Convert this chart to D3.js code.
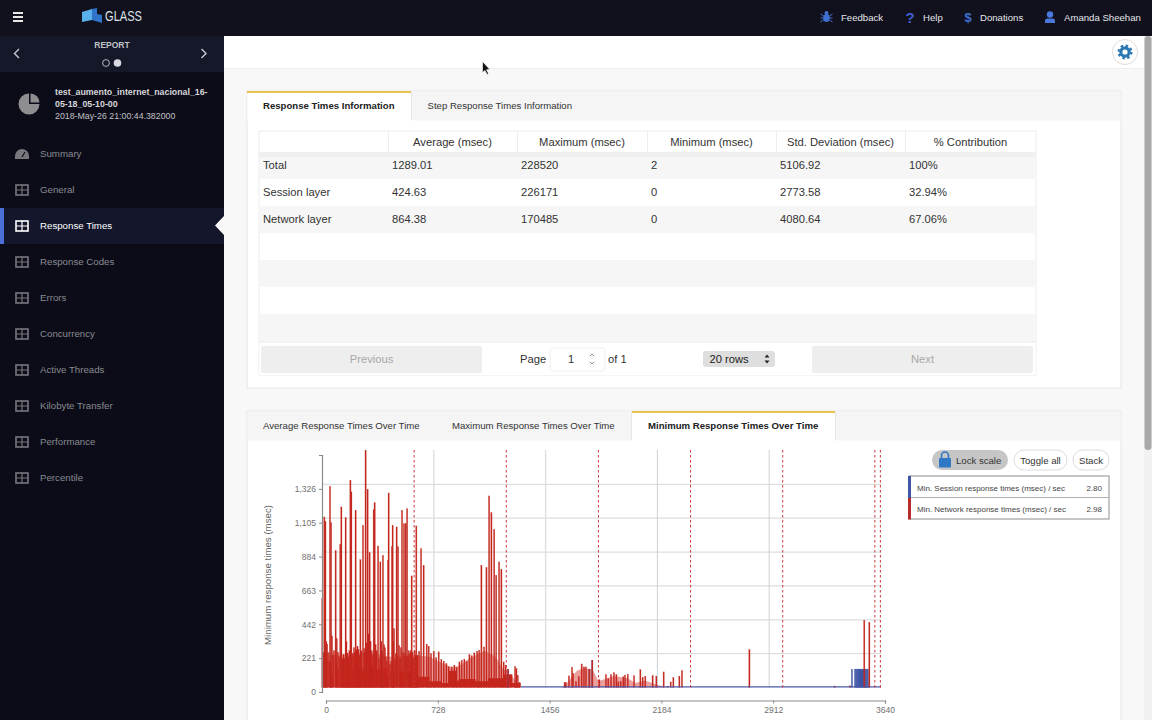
<!DOCTYPE html>
<html>
<head>
<meta charset="utf-8">
<title>Response Times</title>
<script src="https://cdnjs.cloudflare.com/ajax/libs/d3/7.8.5/d3.min.js"></script>
<style>
html,body{margin:0;padding:0;background:#f8f8f8;overflow:hidden;}
svg{display:block;}
text{font-family:"Liberation Sans",Arial,sans-serif;}
</style>
</head>
<body>
<svg id="page" width="1152" height="720"></svg>
<script>
//Navigation and table text
var menuItems = ["Summary","General","Response Times","Response Codes","Errors","Concurrency","Active Threads","Kilobyte Transfer","Performance","Percentile"];
var tableColumns = ["Average (msec)","Maximum (msec)","Minimum (msec)","Std. Deviation (msec)","% Contribution"];
var tableLabels = ["Total","Session layer","Network layer"];
var averageValues = ["1289.01","424.63","864.38"];
var maximumValues = ["228520","226171","170485"];
var minimumValues = ["2","0","0"];
var deviationValues = ["5106.92","2773.58","4080.64"];
var contributionValues = ["100%","32.94%","67.06%"];
var chartTabs = ["Average Response Times Over Time","Maximum Response Times Over Time","Minimum Response Times Over Time"];
var legendLabels = ["Min. Session response times (msec) / sec","Min. Network response times (msec) / sec"];
var legendValues = ["2.80","2.98"];

//Axis ticks
var xTicks = [0,728,1456,2184,2912,3640];
var yTicks = [0,221,442,663,884,1105,1326];
var stepMarks = [600,1200,1800,2400,3000,3600,3636];

//Network layer spikes (sec, msec)
var networkTimes = [2,15,22,33,52,59,65,89,96,119,126,133,154,159,185,191,202,219,237,250,267,284,297,310,337,343,365,380,397,404,430,434,456,460,469,486,495,502,521,534,545,554,565,584,604,614,
  632,645,662,682,695,710,728,743,760,777,793,810,825,845,862,877,895,910,927,943,960,975,992,1010,1023,1038,1055,1071,1088,1103,1121,1134,1153,1168,1183,1196,1212,1229,1257,1266,1275,1286,
  1580,1587,1608,1628,1635,1654,1672,1691,1706,1719,1741,1760,1806,1849,1864,1882,1901,1917,1929,1945,1962,1973,1991,2032,2073,2088,2105,2153,2177,2225,2251,2271,2288,2327,2344,2783,3339,3438,3531,3564];
var networkValues = [580,1113,1085,283,1314,1077,337,894,320,935,1179,190,1109,300,1353,1277,210,1157,250,835,1059,1549,1294,881,1161,1207,924,820,863,280,830,1270,920,1059,385,1048,920,275,1157,1070,1070,1168,240,729,240,1055,
  237,907,798,283,270,222,237,196,233,183,172,157,135,135,146,130,167,178,185,172,215,207,226,237,244,798,265,783,1251,1142,1033,733,820,772,167,146,120,85,137,124,80,33,
  33,33,76,133,94,39,72,154,135,135,117,178,52,85,57,85,98,85,37,41,70,81,87,78,117,67,74,78,74,102,9,37,65,74,111,248,10,12,439,426];

//Shorter network spikes between the tall ones (sec, msec)
var shoulderTimes = [28,40,72,78,104,112,140,147,165,172,178,196,208,213,225,231,243,256,274,279,290,303,316,324,331,349,355,371,386,391,410,416,422,442,450,464,475,481,490,508,514,527,539,550,559,572,578,590,597,609,622];
var shoulderValues = [300,230,210,240,230,200,215,190,225,200,240,225,260,230,245,270,210,240,255,230,290,350,300,240,210,280,240,190,300,240,260,200,170,150,170,300,180,220,210,190,260,230,220,200,210,220,240,230,190,210,210];

//Solid low band under the spikes (sec, msec)
var floorTimes = [0,26,34,44,60,70,84,100,108,118,135,145,160,180,205,225,245,265,290,310,330,350,375,400,425,438,446,470,476,500,530,538,560,590,604,620,700,780,825,877,895,1000,1080,1180,1240,1294];
var floorValues = [230,190,0,170,90,0,160,120,0,150,100,130,140,110,120,130,125,110,130,150,125,115,130,120,70,0,110,100,0,110,95,0,105,80,95,70,40,30,110,45,55,40,60,85,30,0];

//Lighter shading between the spikes (sec, msec)
var hazeTimes = [0,100,300,450,620,700,780,850,900,960,1020,1060,1130,1180,1240,1290,1560,1586,1660,1700,1760,1800,1900,1990,2040,2100,2240];
var hazeValues = [220,210,230,200,210,200,160,130,145,190,220,240,200,120,70,0,0,20,110,125,120,40,75,60,30,45,0];

//Session layer: the spikes that show through, and its flat trace (sec, msec)
var sessionTimes = [389,1212,1741,1760,3451,3471,3478,3485,3492,3499,3506,3513,3520,3527,3534,3541,3548,3555];
var sessionValues = [222,120,117,178,120,120,120,120,120,120,120,120,120,120,120,120,120,120];
var sessionFlatTimes = [1294,3640];
var sessionFlatValues = [4,4];

var svg = d3.select("#page");

//Helpers
function label(parent,x,y,txt,size,color,anchor,weight){
  return parent.append("text").attr("x",x).attr("y",y).text(txt)
    .attr("font-size",size).attr("fill",color)
    .attr("text-anchor",anchor||"start").attr("font-weight",weight||"normal");
}
function box(parent,x,y,w,h,fill){
  return parent.append("rect").attr("x",x).attr("y",y).attr("width",w).attr("height",h).attr("fill",fill);
}
function pairs(times,values){
  return times.map(function(t,i){return [t,values[i]];});
}

//Soft edge for the spikes, the source is a slightly blurred frame
svg.append("defs").append("filter").attr("id","soft")
  .attr("x","-2%").attr("y","-2%").attr("width","104%").attr("height","104%")
  .append("feGaussianBlur").attr("stdDeviation",0.35);

//---Shell---
box(svg,0,0,1152,720,"#f8f8f8");
box(svg,224,36,928,32,"#ffffff");
svg.append("line").attr("x1",224).attr("x2",1152).attr("y1",68.5).attr("y2",68.5).attr("stroke","#eeeeee");
box(svg,0,0,1152,36,"#10111d");
box(svg,0,36,224,684,"#0b0c18");
box(svg,0,36,224,36,"#141829");
box(svg,1144,36,8,684,"#f1f1f1");
svg.append("rect").attr("x",1144.5).attr("y",36).attr("width",7).attr("height",414).attr("rx",3.5).attr("fill","#a9a9a9");

//Hamburger
[13,17,21].forEach(function(y){box(svg,13,y-1,10,2,"#e8e8e8");});

//Logo
svg.append("path").attr("d","M82 12L92 9V20L82 22Z").attr("fill","#5ab0ea");
svg.append("path").attr("d","M92 9L97 8V14L102 15V23L92 20Z").attr("fill","#2f74c8");
label(svg,105,21,"GLASS",14.5,"#dfe3ea").attr("textLength",37).attr("lengthAdjust","spacingAndGlyphs");

//Top links
function bugIcon(x,y){
  svg.append("ellipse").attr("cx",x).attr("cy",y+1).attr("rx",3.2).attr("ry",4).attr("fill","#3f6fd0");
  svg.append("circle").attr("cx",x).attr("cy",y-4).attr("r",2).attr("fill","#3f6fd0");
  svg.append("path").attr("d","M"+(x-6)+" "+(y-3)+"L"+(x+6)+" "+(y+5)+"M"+(x+6)+" "+(y-3)+"L"+(x-6)+" "+(y+5)+"M"+(x-6)+" "+(y+1)+"H"+(x+6))
    .attr("stroke","#3f6fd0").attr("stroke-width",1);
}
bugIcon(826.5,17);
label(svg,841,21,"Feedback",9.6,"#e6e6ea");
label(svg,910,22.5,"?",15,"#3f5fcf","middle","bold");
label(svg,923,21,"Help",9.6,"#e6e6ea");
label(svg,968,22,"$",13,"#3f6fd0","middle","bold");
label(svg,980,21,"Donations",9.6,"#e6e6ea");
svg.append("circle").attr("cx",1050).attr("cy",14.5).attr("r",3.2).attr("fill","#4a78dc");
svg.append("path").attr("d","M1045 23V20.5Q1045 18.5 1047.5 18.5H1052.5Q1055 18.5 1055 20.5V23Z").attr("fill","#4a78dc");
label(svg,1064,21,"Amanda Sheehan",9.6,"#e6e6ea");

//Report switcher
label(svg,112,48,"REPORT",8.5,"#c0c2c8","middle","bold");
svg.append("path").attr("d","M19 49L14.5 53.5L19 58").attr("fill","none").attr("stroke","#c8c8d0").attr("stroke-width",1.4);
svg.append("path").attr("d","M201.5 49L206 53.5L201.5 58").attr("fill","none").attr("stroke","#c8c8d0").attr("stroke-width",1.4);
svg.append("circle").attr("cx",106).attr("cy",63).attr("r",3.4).attr("fill","none").attr("stroke","#b8b8c0");
svg.append("circle").attr("cx",117.5).attr("cy",63).attr("r",3.8).attr("fill","#d8d8de");

//Report name
var pie = d3.arc().innerRadius(0);
svg.append("path").attr("transform","translate(29,104)").attr("fill","#8e8e90")
  .attr("d",pie({outerRadius:10.5,startAngle:Math.PI*0.5,endAngle:Math.PI*2}));
svg.append("path").attr("transform","translate(30.5,102.5)").attr("fill","#8e8e90")
  .attr("d",pie({outerRadius:9,startAngle:0,endAngle:Math.PI*0.5}));
label(svg,55,95,"test_aumento_internet_nacional_16-",8.8,"#d6d6da",null,"bold");
label(svg,55,107,"05-18_05-10-00",8.8,"#d6d6da",null,"bold");
label(svg,55,119,"2018-May-26 21:00:44.382000",8.8,"#c0c0c6");

//Sidebar menu
box(svg,0,208,224,36,"#14172b");
box(svg,0,208,4,36,"#4c6fd8");
svg.append("path").attr("d","M224 216L215 225.500L224 235Z").attr("fill","#f8f8f8");
menuItems.forEach(function(name,i){
  var cy = 153.5+i*36;
  var active = name=="Response Times";
  var color = active ? "#ffffff" : "#8a8a90";
  if(i==0){
    svg.append("path").attr("d","M15 160V157A7 7 0 0 1 29 157V160Z").attr("fill","#77777c").attr("transform","translate(0,-1)");
    svg.append("line").attr("x1",22).attr("x2",25).attr("y1",157).attr("y2",152).attr("stroke","#0b0c18").attr("stroke-width",1.2);
  } else {
    svg.append("rect").attr("x",16).attr("y",cy-4.5).attr("width",12).attr("height",10).attr("fill","none").attr("stroke",active?"#ffffff":"#77777c").attr("stroke-width",1.6);
    svg.append("path").attr("d","M16 "+(cy+0.5)+"H28M22 "+(cy-4.5)+"V"+(cy+5.5)).attr("stroke",active?"#ffffff":"#77777c").attr("stroke-width",1.2);
  }
  label(svg,40,cy+3.5,name,9.7,color);
});

//Settings button and cursor
svg.append("circle").attr("cx",1125).attr("cy",52).attr("r",12.5).attr("fill","#ffffff").attr("stroke","#e2dcd6");
svg.append("circle").attr("cx",1125).attr("cy",52).attr("r",4.2).attr("fill","none").attr("stroke","#2c78b4").attr("stroke-width",3.2);
svg.append("circle").attr("cx",1125).attr("cy",52).attr("r",6.4).attr("fill","none").attr("stroke","#2c78b4").attr("stroke-width",2.2).attr("stroke-dasharray","2.5 2.5");
svg.append("path").attr("d","M482.5 61.5V72.5L485 70.500L487 74.500L488.500 73.500L486.500 69.800L489.800 69.500Z").attr("fill","#111111").attr("stroke","#ffffff").attr("stroke-width",0.6);

//---Upper panel---
box(svg,247,91,874,297,"#ffffff").attr("stroke","#e4e4e4");
box(svg,247.5,91.5,873,29,"#f5f5f5");
box(svg,247.5,92,164,29,"#ffffff");
box(svg,247,91,164,2,"#e9c44e");
svg.append("line").attr("x1",411.5).attr("x2",411.5).attr("y1",92).attr("y2",120).attr("stroke","#e6e6e6");
label(svg,263,109,"Response Times Information",9.6,"#222222",null,"bold");
label(svg,427.5,109,"Step Response Times Information",9.6,"#333333");

//Table
var tableX = [259,388,517,647,776,905];
var rowY = d3.range(7).map(function(i){return 152+i*27;});
box(svg,259,131,777,244,"#ffffff").attr("stroke","#ececec");
rowY.forEach(function(y,i){
  if(i%2==0) box(svg,259.5,y,776,27,"#f6f6f6");
});
box(svg,259.5,152,776,5,"#ececec").attr("opacity",0.7);
tableColumns.forEach(function(name,i){
  label(svg,(tableX[i+1]+(i==4?1036:tableX[i+2]))/2,145.5,name,11.2,"#333333","middle");
  svg.append("line").attr("x1",tableX[i+1]+0.5).attr("x2",tableX[i+1]+0.5).attr("y1",131).attr("y2",152).attr("stroke","#eeeeee");
});
[tableLabels,averageValues,maximumValues,minimumValues,deviationValues,contributionValues].forEach(function(col,c){
  col.forEach(function(val,r){
    label(svg,tableX[c]+4,169+r*27,val,11.2,"#333333");
  });
});

//Pagination
box(svg,259.5,341,776,34,"#ffffff");
svg.append("line").attr("x1",259).attr("x2",1036).attr("y1",342).attr("y2",342).attr("stroke","#e6e6e6");
box(svg,261,346,221,27,"#eeeeee").attr("rx",2);
box(svg,812,346,221,27,"#eeeeee").attr("rx",2);
label(svg,371.5,363,"Previous",11.2,"#a8a8a8","middle");
label(svg,922.5,363,"Next",11.2,"#a8a8a8","middle");
label(svg,520,363,"Page",11.2,"#333333");
box(svg,550,348,55,23,"#ffffff").attr("rx",3).attr("stroke","#eeeeee");
label(svg,571,363,"1",11.2,"#333333","middle");
svg.append("path").attr("d","M590 356L592 354L594 356M590 362L592 364L594 362").attr("fill","none").attr("stroke","#666666").attr("stroke-width",0.8);
label(svg,608,363,"of 1",11.2,"#333333");
box(svg,703,351,72,16,"#dedede").attr("rx",3);
label(svg,709.5,363,"20 rows",11.2,"#222222");
svg.append("path").attr("d","M764.500 357.500L767 354.500L769.500 357.500ZM764.500 360.500L767 363.500L769.500 360.500Z").attr("fill","#222222");

//---Lower panel---
box(svg,247,411,874,320,"#ffffff").attr("stroke","#e4e4e4");
box(svg,247.5,411.5,873,29,"#f5f5f5");
box(svg,632,412,203,29,"#ffffff");
box(svg,632,411,203,2,"#e9c44e");
svg.append("line").attr("x1",835.5).attr("x2",835.5).attr("y1",412).attr("y2",440).attr("stroke","#e6e6e6");
svg.append("line").attr("x1",631.5).attr("x2",631.5).attr("y1",412).attr("y2",440).attr("stroke","#e6e6e6");
label(svg,263,429,chartTabs[0],9.6,"#333333");
label(svg,452,429,chartTabs[1],9.6,"#333333");
label(svg,648,429,chartTabs[2],9.6,"#222222",null,"bold");

//Chart scales
var xScale = d3.scaleLinear().domain([0,3640]).range([322,881]);
var yScale = d3.scaleLinear().domain([0,1547]).range([687.5,450.5]);
var chart = svg.append("g");

//Grid
chart.append("g").selectAll("line").data(yTicks.slice(1)).enter().append("line")
  .attr("x1",322).attr("x2",881)
  .attr("y1",function(d){return yScale(d);}).attr("y2",function(d){return yScale(d);})
  .attr("stroke","#dedede").attr("stroke-width",1.2);
chart.append("g").selectAll("line").data(xTicks.slice(1,5)).enter().append("line")
  .attr("x1",function(d){return xScale(d);}).attr("x2",function(d){return xScale(d);})
  .attr("y1",450).attr("y2",687.5)
  .attr("stroke",function(d){return d>2000 ? "#ccd2d8" : "#dedede";})
  .attr("stroke-width",function(d){return d>2000 ? 1 : 1.4;});

//Shading under the network spikes
var marks = chart.append("g").attr("filter","url(#soft)");
var hazeArea = d3.area().x(function(d){return xScale(d[0]);}).y0(yScale(0)).y1(function(d){return yScale(d[1]);});
marks.append("path").datum(pairs(hazeTimes,hazeValues)).attr("d",hazeArea).attr("fill","#d8403a").attr("opacity",0.5);
var floorArea = d3.area().curve(d3.curveStepAfter).x(function(d){return xScale(d[0]);}).y0(yScale(0)).y1(function(d){return yScale(d[1]);});
marks.append("path").datum(pairs(floorTimes,floorValues)).attr("d",floorArea).attr("fill","#c8261e");

//Session bars go under the network bars
var barWidth = 1.3;
function drawBars(data,fill){
  marks.append("g").selectAll("rect").data(data).enter().append("rect")
    .attr("x",function(d){return xScale(d[0])-barWidth/2;})
    .attr("width",barWidth)
    .attr("y",function(d){return yScale(d[1]);})
    .attr("height",function(d){return yScale(0)-yScale(d[1]);})
    .attr("fill",fill).attr("stroke",fill).attr("stroke-width",0.4).attr("stroke-opacity",0.5);
}
drawBars(pairs(sessionTimes,sessionValues),"#3f55a6");
drawBars(pairs(shoulderTimes,shoulderValues),"#c8261e");
drawBars(pairs(networkTimes,networkValues),"#c4281f");

//Flat session trace
var flatLine = d3.line().x(function(d){return xScale(d[0]);}).y(function(d){return yScale(d[1]);});
marks.append("path").datum(pairs(sessionFlatTimes,sessionFlatValues)).attr("d",flatLine)
  .attr("fill","none").attr("stroke","#4a56a4").attr("stroke-width",1.4);

//Step markers
chart.append("g").selectAll("line").data(stepMarks).enter().append("line")
  .attr("x1",function(d){return xScale(d);}).attr("x2",function(d){return xScale(d);})
  .attr("y1",450).attr("y2",687.5)
  .attr("stroke","#d0353a").attr("stroke-width",1).attr("stroke-dasharray","2.5 2.5");

//Axes sit a few pixels off the plot, as in the app
var xAxis = d3.axisBottom(xScale).tickValues(xTicks).tickSize(3).tickPadding(3).tickFormat(d3.format("d"));
var yAxis = d3.axisLeft(yScale).tickValues(yTicks).tickSize(3).tickPadding(3).tickFormat(d3.format(","));
var xAxisGroup = svg.append("g").attr("transform","translate(4,700.5)").call(xAxis);
var yAxisGroup = svg.append("g").attr("transform","translate(322,4.5)").call(yAxis);
[xAxisGroup,yAxisGroup].forEach(function(g){
  g.selectAll("text").attr("font-size",8.5).attr("fill","#707070").attr("font-family","'Liberation Sans',Arial,sans-serif");
  g.selectAll("line").attr("stroke","#8a8a8a");
  g.select(".domain").attr("stroke","#8a8a8a").attr("stroke-width",1.2);
});
label(svg,0,0,"Minimum response times (msec)",9.7,"#666666","middle")
  .attr("transform","translate(271,575) rotate(-90)");

//Chart buttons
box(svg,932,450,76,20,"#c6c6c6").attr("rx",10);
svg.append("rect").attr("x",939).attr("y",458).attr("width",12).attr("height",9.5).attr("rx",1).attr("fill","#2f78c4");
svg.append("path").attr("d","M941.500 458V455.500A3.500 3.500 0 0 1 948.500 455.500V458").attr("fill","none").attr("stroke","#2f78c4").attr("stroke-width",1.6);
label(svg,956,464,"Lock scale",9.6,"#333333");
box(svg,1014,450,53,20,"#ffffff").attr("rx",10).attr("stroke","#dddddd");
label(svg,1040.5,464,"Toggle all",9.6,"#333333","middle");
box(svg,1073,450,36,20,"#ffffff").attr("rx",10).attr("stroke","#dddddd");
label(svg,1091,464,"Stack",9.6,"#333333","middle");

//Legend
box(svg,909,476,200,43,"#ffffff").attr("stroke","#8d8d8d");
svg.append("line").attr("x1",909).attr("x2",1109).attr("y1",497.5).attr("y2",497.5).attr("stroke","#b0b0b0");
box(svg,908,476,3,22,"#3f55a6");
box(svg,908,498,3,21.5,"#b72b2b");
legendLabels.forEach(function(name,i){
  label(svg,917,491+i*21,name,8,"#444444");
  label(svg,1102,491+i*21,legendValues[i],8,"#444444","end");
});
</script>
</body>
</html>
